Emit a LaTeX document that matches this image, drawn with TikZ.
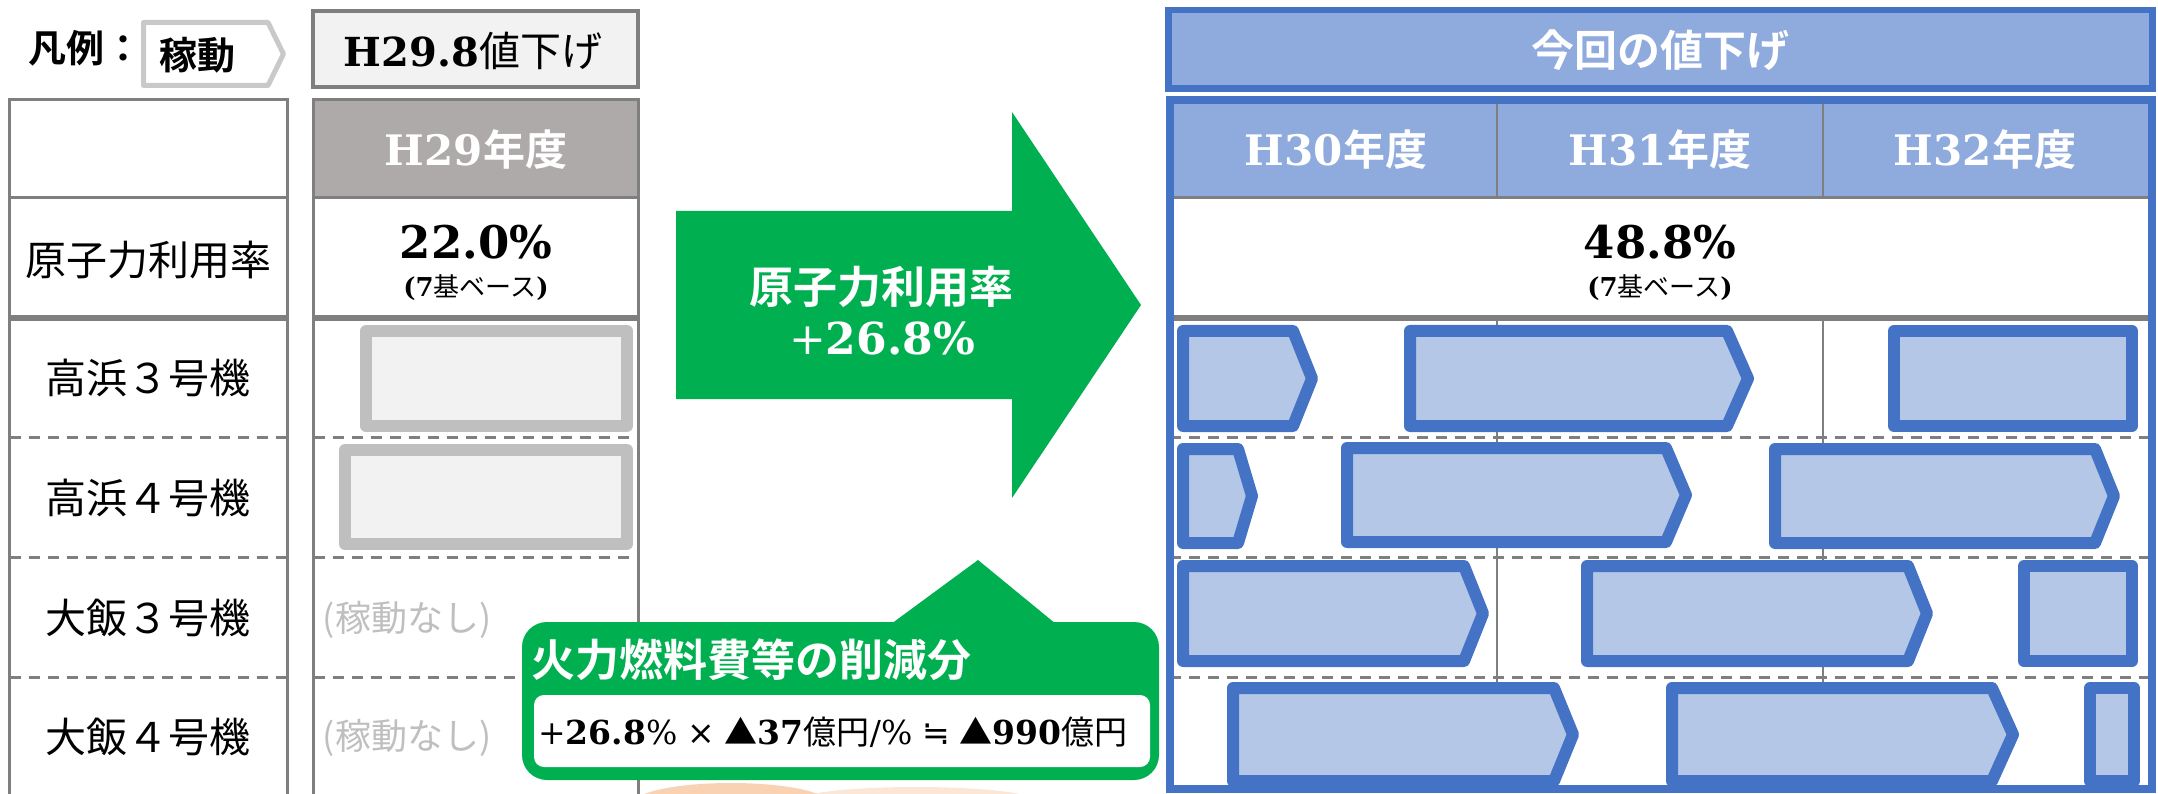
\documentclass[tikz,border=0pt]{standalone}
\usepackage{fontspec}
\newfontfamily\jp{Noto Sans CJK JP}[BoldFont={* Bold}]
\newfontfamily\sr{DejaVu Serif}
\newfontfamily\dv{DejaVu Sans}
\newcommand\fs[1]{\fontsize{#1}{#1}\selectfont}
\newcommand\nb[1]{{\sr\bfseries #1}}
\newcommand\nr[1]{{\sr #1}}
\definecolor{lgray}{HTML}{7F7F7F}
\definecolor{hdrgray}{HTML}{AEAAAA}
\definecolor{boxfill}{HTML}{F2F2F2}
\definecolor{rgray}{HTML}{BFBFBF}
\definecolor{lgborder}{HTML}{C9C9C9}
\definecolor{grn}{HTML}{00B050}
\definecolor{bblue}{HTML}{4472C4}
\definecolor{hblue}{HTML}{8FAADC}
\definecolor{bfill}{HTML}{B4C7E7}
\definecolor{orA}{HTML}{F9D2B4}
\definecolor{orB}{HTML}{FCE6D5}
\begin{document}
\begin{tikzpicture}[x=1pt,y=-1pt,
  every node/.style={inner sep=0pt, outer sep=0pt},
  gline/.style={draw=lgray, line width=3pt},
  thline/.style={draw=lgray, line width=5.5pt},
  dline/.style={draw=lgray, line width=3pt, dash pattern=on 11pt off 8pt},
  bar/.style={draw=bblue, fill=bfill, line width=12pt, line join=round},
  grect/.style={draw=rgray, fill=boxfill, line width=12pt, line join=round},
  lbl/.style={font=\jp\fs{41}, text=black},
  offtxt/.style={font=\jp\fs{36}, text=rgray},
  hdr/.style={font=\fs{42}, text=white},
]
\useasboundingbox (0,0) rectangle (2158,794);
\clip (0,0) rectangle (2158,794);
\newcommand\chev[5]{\path[bar] (#1+6,#2+6) -- (#4-5,#2+6) -- (#5-6,{(#2+#3)/2}) -- (#4-5,#3-6) -- (#1+6,#3-6) -- cycle;}
\newcommand\brect[4]{\path[bar] (#1+6,#2+6) rectangle (#3-6,#4-6);}

% ---------- legend ----------
\node[anchor=west, font=\jp\bfseries\fs{38}] (lgd) at (28,48) {凡例：};
\draw[draw=lgborder, fill=white, line width=5pt, line join=round]
  (143.5,22.5) -- (268,22.5) -- (283.5,54) -- (268,85.5) -- (143.5,85.5) -- cycle;
\node[font=\jp\bfseries\fs{38}] (lgdop) at (197,55) {稼動};
\node[draw=lgray, fill=boxfill, line width=4pt, minimum width=325pt, minimum height=76pt]
  (h298) at (475.5,49) {};
\node (h298t) at (473,51) {\fs{40}\nb{H29.8}{\jp\fs{41}値下げ}};

% ---------- left table ----------
\fill[hdrgray] (312,99) rectangle (640,197);
\foreach \x in {9.5,287.5,313.5,638.5} \draw[gline] (\x,99) -- (\x,794);
\foreach \a/\b in {8/289,312/640} {
  \draw[gline] (\a,99.5) -- (\b,99.5);
  \draw[gline] (\a,197.5) -- (\b,197.5);
  \draw[thline] (\a,318) -- (\b,318);
}
\foreach \y in {437,557,677} {
  \draw[dline] (9.5,\y) -- (287.5,\y);
  \draw[dline] (313.5,\y) -- (638.5,\y);
}
\path[grect] (366,331) rectangle (627,426);
\path[grect] (345,450) rectangle (627,544);

\node[hdr] (h29) at (476,150) {\nb{H29}{\jp\bfseries 年度}};
\node[lbl] (rate) at (148,260) {原子力利用率};
\node[lbl] (t3) at (148,378) {高浜３号機};
\node[lbl] (t4) at (148,498) {高浜４号機};
\node[lbl] (o3) at (148,618) {大飯３号機};
\node[lbl] (o4) at (148,737) {大飯４号機};
\node[font=\fs{45}] (r29) at (476,242) {\nb{22.0\%}};
\node[font=\fs{26}] (b29) at (476,288) {\nb{(7}{\jp 基ベース}\nb{)}};
\node[offtxt] (n3) at (407,620) {(稼動なし)};
\node[offtxt] (n4) at (407,738) {(稼動なし)};

% ---------- green arrow ----------
\fill[grn] (676,211) -- (1012,211) -- (1012,112) -- (1141,305) -- (1012,498) -- (1012,399) -- (676,399) -- cycle;
\node[font=\jp\bfseries\fs{44}, text=white] (arrt) at (881,287) {原子力利用率};
\node[font=\fs{44}, text=white] (arrn) at (882,338) {\nr{+}\nb{26.8\%}};

% ---------- orange blob ----------
\fill[orB] (916,801) ellipse [x radius=120, y radius=14];
\fill[orA] (731,803) ellipse [x radius=97, y radius=20];

% ---------- callout ----------
\fill[grn] (891,624) -- (978,560) -- (1056,624) -- cycle;
\fill[grn, rounded corners=25pt] (522,622) rectangle (1159,780);
\fill[white, rounded corners=10pt] (534,695) rectangle (1150,767);
\node[anchor=west, font=\jp\bfseries\fs{44}, text=white] (calt) at (531,660) {火力燃料費等の削減分};
\node[anchor=west, font=\fs{33}] (calf) at (538,732)
  {\nr{+}\nb{26.8}\nr{\%}\ {\dv ×}\ {\jp ▲}\nb{37}{\jp 億円}\nr{/\%}\ {\dv ≒}\ {\jp ▲}\nb{990}{\jp 億円}};

% ---------- right (blue) ----------
\path[draw=bblue, fill=hblue, line width=6.5pt] (1168.5,10) rectangle (2152.5,88.5);
\node[font=\jp\bfseries\fs{43}, text=white] (konkai) at (1660,50) {今回の値下げ};
\fill[hblue] (1170,100) rectangle (2151,197);
\draw[gline] (1170,197.5) -- (2151,197.5);
\foreach \x in {1497,1823} {
  \draw[draw=lgray, line width=2.5pt] (\x,100) -- (\x,197);
  \draw[draw=lgray, line width=2pt] (\x,318) -- (\x,789);
}
\draw[thline] (1170,318) -- (2151,318);
\foreach \y in {437,557,677} \draw[dline] (1170,\y) -- (2151,\y);

% bars row 1
\chev{1177}{325}{432}{1298}{1318}
\chev{1404}{325}{432}{1732}{1754}
\brect{1888}{325}{2138}{432}
% row 2
\chev{1177}{443}{549}{1243}{1258}
\chev{1341}{442}{548}{1671}{1692}
\chev{1769}{443}{549}{2100}{2120}
% row 3
\chev{1177}{560}{667}{1469}{1489}
\chev{1581}{560}{667}{1913}{1933}
\brect{2018}{560}{2138}{667}
% row 4
\chev{1227}{682}{787}{1559}{1579}
\chev{1666}{682}{787}{1997}{2019}
\brect{2084}{682}{2140}{787}

\draw[bblue, line width=8pt] (1169.5,100) rectangle (2151.5,789);

\node[hdr] (h30) at (1336,150) {\nb{H30}{\jp\bfseries 年度}};
\node[hdr] (h31) at (1660,150) {\nb{H31}{\jp\bfseries 年度}};
\node[hdr] (h32) at (1985,150) {\nb{H32}{\jp\bfseries 年度}};
\node[font=\fs{45}] (r30) at (1660,242) {\nb{48.8\%}};
\node[font=\fs{26}] (b30) at (1660,288) {\nb{(7}{\jp 基ベース}\nb{)}};
\end{tikzpicture}
\end{document}
